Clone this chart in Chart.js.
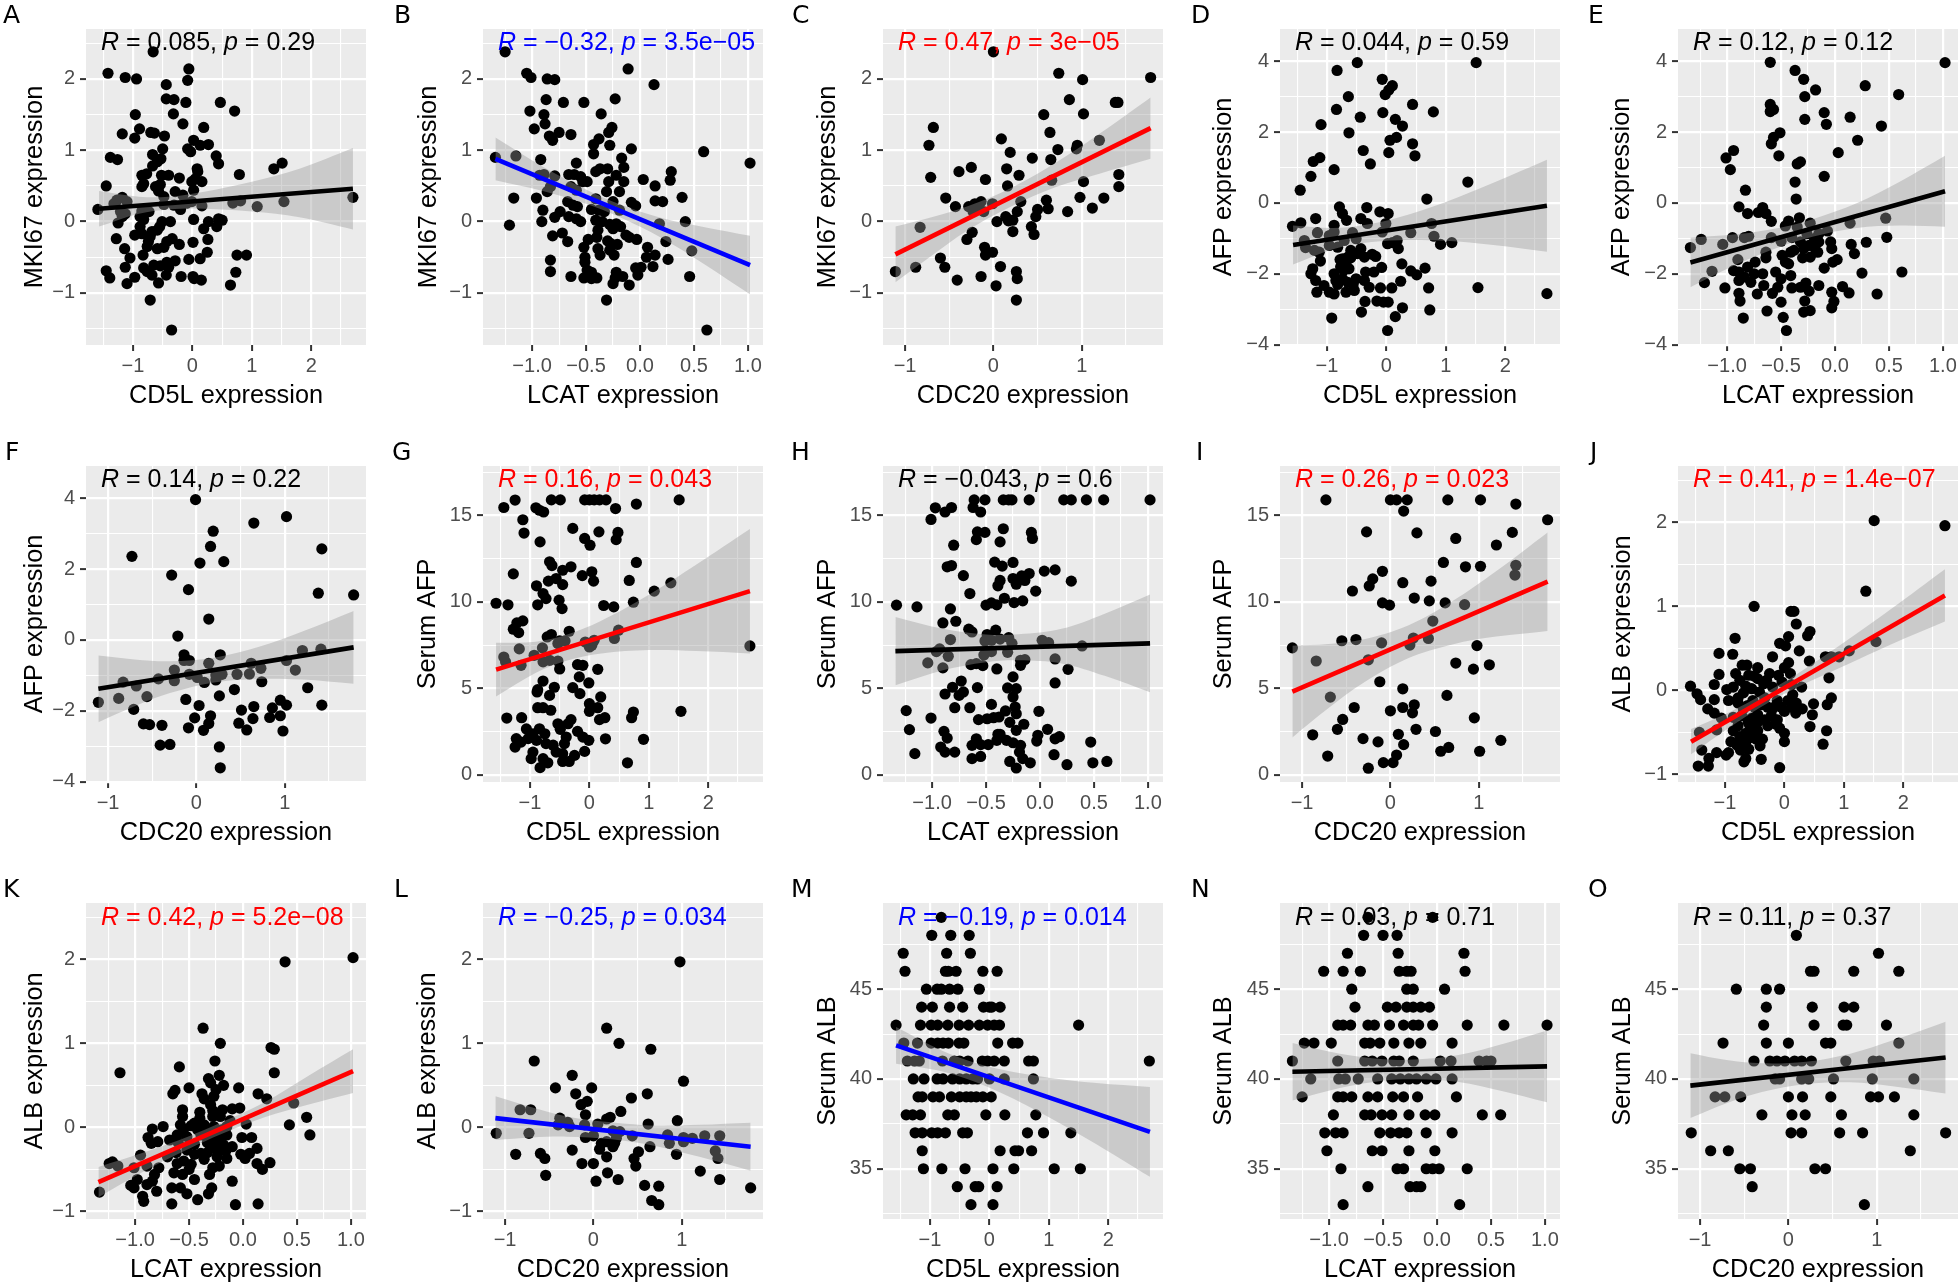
<!DOCTYPE html>
<html><head><meta charset="utf-8">
<style>
html,body{margin:0;padding:0;background:#fff;width:1960px;height:1287px;overflow:hidden}
canvas{position:absolute;display:block}
.ann{position:absolute;font:25px/30px "Liberation Sans",sans-serif;white-space:nowrap}
.tag{position:absolute;font:25px/30px "DejaVu Sans",sans-serif;color:#000}
</style>
<script src="https://cdn.jsdelivr.net/npm/chart.js@4"></script>
</head><body>
<script>
// ---- axis limits & ticks ----
const cd5lRange=[-1.79,2.92], lcatRange=[-1.455,1.14], cdc20Range=[-1.25,1.92];
const mki67Range=[-1.73,2.70], afpRange=[-4.01,4.91], sAfpRange=[-0.42,17.86], albRange=[-1.09,2.67], sAlbRange=[32.2,49.8];
const cd5lTicks=[-1,0,1,2], lcatTicks=[-1,-0.5,0,0.5,1], cdc20Ticks=[-1,0,1];
const mki67Ticks=[-1,0,1,2], afpTicks=[-4,-2,0,2,4], sAfpTicks=[0,5,10,15], albTicks=[-1,0,1,2], sAlbTicks=[35,40,45];
// ---- x stations at which the confidence band was read ----
const cd5lStations=[-1.57,-0.9,-0.4,0.2,1,1.8,2.7];
const lcatStations=[-1.34,-0.9,-0.5,-0.2,0.2,0.6,1.02];
const cdc20Stations=[-1.11,-0.7,-0.3,0.2,0.7,1.2,1.78];
// ---- fit line value and band half width at stations ----
const fitA=[.18,.23,.26,.30,.35,.40,.46], bandA=[.25,.12,.09,.12,.21,.34,.57];
const fitB=[.88,.60,.35,.16,-.09,-.34,-.61], bandB=[.30,.17,.10,.09,.14,.26,.41];
const fitC=[-.46,-.21,.04,.34,.65,.95,1.31], bandC=[.39,.27,.17,.13,.17,.28,.43];
const fitD=[-1.19,-1.01,-.88,-.73,-.52,-.31,-.08], bandD=[.55,.3,.25,.32,.55,.88,1.3];
const fitE=[-1.68,-1.30,-.96,-.70,-.36,-.02,.33], bandE=[.7,.42,.27,.25,.35,.62,1.0];
const fitF=[-1.38,-1.21,-1.05,-.85,-.65,-.44,-.21], bandF=[.94,.66,.45,.35,.45,.68,1.03];
const fitG=[6.08,6.8,7.33,7.96,8.81,9.66,10.62], bandG=[1.55,.9,.75,.95,1.6,2.5,3.6];
const fitH=[7.15,7.24,7.31,7.37,7.44,7.52,7.6], bandH=[1.98,1.2,.8,.75,1.0,1.8,2.83];
const fitI=[4.81,5.71,6.59,7.69,8.79,9.89,11.17], bandI=[2.65,1.85,1.25,.95,1.25,1.9,2.85];
const fitJ=[-.61,-.34,-.13,.11,.43,.76,1.13], bandJ=[.15,.09,.07,.08,.14,.21,.31];
const fitK=[-.65,-.40,-.18,-.01,.21,.44,.67], bandK=[.18,.11,.075,.07,.09,.17,.26];
const fitL=[.11,.06,.01,-.04,-.10,-.16,-.23], bandL=[.26,.18,.12,.1,.12,.19,.285];
const fitM=[41.87,41.12,40.55,39.87,38.97,38.07,37.05], bandM=[1.02,.62,.52,.65,1.1,1.7,2.5];
const fitN=[40.4,40.45,40.5,40.53,40.58,40.63,40.7], bandN=[1.6,.95,.6,.55,.75,1.3,2.0];
const fitO=[39.63,39.85,40.07,40.34,40.61,40.88,41.19], bandO=[1.8,1.2,.8,.62,.8,1.3,2.0];
// ---- scatter points ----
const pointsA=[[-.66,2.38],[-1.42,2.08],[-1.13,2.02],[-.94,2],[-.06,2.14],[-.08,1.98],[-.44,1.92],[-.44,1.72],[-.31,1.71],[-.11,1.67],[.47,1.67],[.71,1.55],[-.96,1.5],[-.32,1.51],[-.16,1.37],[.19,1.32],[-.89,1.3],[-1.18,1.23],[-.97,1.17],[-.7,1.25],[-.64,1.24],[-.47,1.2],[.02,1.14],[-.5,1.02],[-.08,1.02],[-.03,.98],[.13,1.07],[.27,1.08],[-1.38,.9],[-1.26,.87],[-.67,.94],[-.53,.88],[-.59,.84],[-.67,.78],[.4,.92],[.44,.81],[1.51,.82],[1.37,.74],[.79,.66],[.08,.74],[.09,.7],[-.85,.65],[-.77,.67],[-.52,.65],[-.4,.65],[-.22,.61],[-.01,.56],[.16,.56],[.05,.6],[-1.45,.5],[-.82,.53],[-.85,.49],[-.62,.49],[-.54,.52],[-.57,.43],[-.29,.42],[.02,.44],[-.16,.37],[-.48,.35],[2.7,.34],[-1.27,.3],[-1.18,.34],[-1.1,.28],[-1.32,.25],[1.54,.28],[.81,.29],[.68,.26],[1.09,.21],[-1.59,.17],[-.48,.24],[-.31,.23],[-.2,.17],[.16,.22],[-.09,.26],[-.01,.28],[-1.21,.14],[-1.13,.11],[-1.18,.07],[-.85,.15],[-.73,.14],[-.88,.07],[-.82,.03],[-1.25,-.02],[.02,.03],[.19,-.1],[.27,0],[.41,-.07],[.44,.04],[.5,.02],[-.51,0],[-.37,0],[-.55,-.07],[-.59,-.12],[-1.28,-.24],[-.97,-.19],[-.88,-.07],[-.85,-.17],[.26,-.25],[.01,-.29],[-1.14,-.38],[-1.05,-.51],[-.76,-.35],[-.71,-.21],[-.68,-.14],[-.74,-.28],[-.34,-.24],[-.43,-.28],[-.48,-.36],[-.59,-.38],[-.22,-.32],[-.83,-.47],[.25,-.43],[.13,-.52],[-.06,-.53],[.75,-.47],[.91,-.47],[-1.13,-.64],[-1.45,-.69],[-1.39,-.79],[-.97,-.78],[-1.1,-.87],[-.82,-.65],[-.76,-.7],[-.68,-.75],[-.65,-.61],[-.54,-.62],[-.43,-.57],[-.29,-.55],[-.4,-.64],[-.44,-.75],[-.57,-.86],[-.19,-.77],[.01,-.77],[.03,-.8],[.15,-.82],[.73,-.71],[.64,-.89],[-.71,-1.1],[-.35,-1.52]];
const pointsB=[[-1.25,2.38],[-1.05,2.08],[-1.01,2.02],[-.86,2],[-.79,1.99],[-.11,2.14],[.13,1.92],[-.23,1.72],[-.87,1.71],[-.71,1.67],[-.52,1.67],[-1.02,1.55],[-.89,1.5],[-.88,1.37],[-.98,1.3],[-.36,1.51],[-.26,1.32],[-.29,1.25],[-.75,1.25],[-.64,1.22],[-.84,1.2],[-.81,1.14],[-.38,1.16],[-.43,1.08],[-.43,.95],[-.28,1.07],[-.08,1.02],[-1.34,.9],[-1.15,.92],[-.92,.87],[-.17,.89],[.59,.98],[1.02,.82],[-.59,.82],[-.15,.76],[-.3,.74],[-.37,.74],[-.41,.7],[.29,.7],[.28,.58],[-.66,.66],[-.61,.66],[-.55,.63],[-.93,.65],[-.89,.66],[-.79,.64],[-.22,.65],[-.15,.56],[-.29,.56],[.03,.59],[.14,.5],[-.49,.56],[-.53,.56],[-.64,.49],[-.59,.44],[-.83,.49],[-.86,.42],[-.31,.42],[-.19,.42],[-1.17,.33],[-.96,.33],[.39,.34],[.14,.29],[.21,.28],[-.41,.32],[-.25,.28],[-.08,.27],[-.04,.22],[-.67,.28],[-.62,.23],[-.58,.21],[-.45,.17],[-.38,.16],[-.33,.14],[-.19,.16],[-.9,.16],[-.91,0],[-.79,.06],[-.74,.14],[-.66,.07],[-.59,.04],[-.55,0],[-1.21,-.05],[-.41,.02],[-.35,0],[-.28,-.04],[-.22,-.03],[-.18,-.07],[-.25,-.1],[.42,0],[.18,-.03],[-.81,-.2],[-.72,-.16],[-.67,-.28],[-.39,-.12],[-.4,-.22],[-.48,-.25],[-.13,-.19],[-.03,-.25],[-.1,-.22],[.24,-.28],[.48,-.41],[-.3,-.27],[-.27,-.31],[-.21,-.32],[-.28,-.4],[-.24,-.47],[-.52,-.36],[-.39,-.38],[-.37,-.47],[-.51,-.5],[-.51,-.57],[.07,-.36],[.14,-.47],[.06,-.5],[.26,-.53],[-.83,-.54],[-.83,-.7],[.12,-.63],[.01,-.64],[-.04,-.65],[-.02,-.75],[-.49,-.68],[-.45,-.71],[-.52,-.79],[-.45,-.8],[-.4,-.79],[-.64,-.77],[-.22,-.71],[-.16,-.77],[-.23,-.79],[-.25,-.87],[-.1,-.89],[.46,-.77],[-.31,-1.1],[.62,-1.52]];
const pointsC=[[0,2.38],[.74,2.08],[1.01,1.99],[1.78,2.02],[.86,1.71],[1.38,1.67],[1.41,1.67],[.57,1.5],[1.02,1.51],[-.68,1.32],[.64,1.25],[.09,1.16],[1.2,1.14],[-.73,1.07],[.19,.97],[.73,1.01],[.95,1.07],[.94,1.02],[.44,.89],[.65,.87],[-.25,.76],[-.39,.7],[.15,.74],[.29,.65],[1.42,.66],[-.71,.62],[-.09,.59],[1.02,.56],[.16,.5],[.66,.58],[1.42,.49],[-.54,.33],[-.43,.21],[.98,.34],[1.25,.33],[1.12,.19],[.31,.28],[.6,.3],[.62,.18],[.5,.17],[.84,.14],[.27,.14],[.48,.07],[-.28,.21],[-.21,.25],[-.14,.28],[-.01,.25],[-.23,.14],[-.17,.18],[-.11,.14],[.14,.07],[.04,0],[.17,.01],[.22,.02],[-.83,-.08],[.22,-.14],[.43,-.07],[.46,-.18],[-.24,-.15],[-.3,-.25],[-.1,-.36],[-.01,-.43],[-.09,-.47],[-.6,-.51],[-.55,-.64],[-.88,-.64],[-1.11,-.7],[.08,-.63],[.26,-.7],[.27,-.8],[-.14,-.77],[-.41,-.82],[.03,-.9],[.26,-1.1]];
const pointsD=[[-.49,3.96],[1.51,3.96],[-.83,3.74],[-.07,3.49],[.1,3.31],[.04,3.19],[-.02,3.06],[-.64,3],[-.84,2.64],[.44,2.78],[.79,2.57],[-.06,2.55],[-.44,2.42],[.15,2.36],[.27,2.17],[-1.1,2.21],[-.63,1.98],[.17,1.85],[.06,1.77],[.44,1.67],[-.39,1.48],[.04,1.42],[.48,1.33],[-1.12,1.28],[-1.23,1.17],[-.27,1.1],[-.88,.94],[-1.27,.75],[-1.45,.36],[1.37,.59],[.68,.11],[-.79,-.11],[-.33,-.13],[-.74,-.3],[-.11,-.25],[.03,-.3],[-1.19,-.44],[-.67,-.49],[-.43,-.44],[-1.44,-.56],[-1.58,-.66],[-.88,-.63],[-.32,-.58],[-.01,-.58],[.76,-.58],[-1.16,-.84],[-.88,-.82],[-.96,-.92],[-.57,-.84],[-.07,-.82],[.41,-.84],[.8,-.94],[-1.38,-1.06],[1.1,-1.12],[.91,-1.17],[-1.36,-1.26],[.02,-1.15],[.18,-1.06],[.1,-1.12],[.2,-1.29],[-1.21,-1.34],[-1.13,-1.39],[-.96,-1.2],[-.82,-1.25],[-.71,-1.06],[-.51,-1.01],[-.43,-1.29],[-.6,-1.34],[-.49,-1.43],[-.37,-1.53],[-.24,-1.45],[-.18,-1.51],[-.65,-1.53],[-.74,-1.58],[-1.11,-1.64],[.26,-1.72],[.65,-1.84],[.41,-1.92],[.51,-2.03],[-.08,-1.82],[-.21,-1.95],[-.35,-1.95],[-1.24,-1.86],[-1.27,-2],[-1.19,-2.19],[-1.05,-2.33],[-1.17,-2.52],[-.88,-2],[-.77,-1.81],[-.68,-1.72],[-.63,-1.86],[-.85,-2.19],[-.74,-2.14],[-.65,-2.24],[-.51,-2.14],[-.37,-2.19],[-.29,-2.38],[-.54,-2.47],[-.68,-2.52],[-.88,-2.57],[-.96,-2.52],[-.78,-1.6],[-.72,-1.9],[-.82,-2.3],[-.6,-1.55],[-.56,-2.3],[.24,-2.21],[-.1,-2.4],[.09,-2.4],[.71,-2.4],[1.54,-2.39],[2.7,-2.56],[-.36,-2.78],[-.16,-2.77],[-.05,-2.8],[.03,-2.8],[.27,-2.96],[.15,-3.21],[.73,-3.02],[-.42,-3.08],[-.92,-3.25],[.02,-3.6]];
const pointsE=[[-.6,3.97],[1.02,3.96],[-.37,3.74],[-.29,3.49],[-.18,3.19],[.28,3.31],[.59,3.06],[-.28,3],[-.6,2.78],[-.57,2.64],[-.6,2.58],[-.1,2.55],[.14,2.42],[-.28,2.36],[-.08,2.22],[.43,2.17],[-.51,1.98],[-.57,1.85],[.21,1.77],[-.59,1.67],[.03,1.42],[-.94,1.48],[-1.01,1.27],[-.52,1.33],[-.32,1.16],[-.35,1.1],[-.97,.94],[-.1,.75],[-.37,.59],[-.83,.36],[-.36,.11],[-.89,-.11],[-.81,-.3],[-.71,-.27],[-.67,-.13],[-.64,-.3],[-.59,-.52],[-.43,-.51],[-.33,-.42],[.47,-.43],[-.23,-.57],[.14,-.57],[-.46,-.65],[-.35,-.68],[-.07,-.79],[-.8,-.94],[-.84,-.98],[-.95,-.98],[-1.24,-1.03],[-1.04,-1.17],[-1.34,-1.26],[.48,-.97],[.29,-1.11],[-.59,-.98],[-.5,-1.08],[-.4,-.98],[-.04,-1.1],[-.03,-1.29],[.15,-1.17],[.18,-1.43],[-.26,-.87],[-.15,-.87],[-.19,-1.01],[-.32,-1.1],[-.15,-1.1],[-.24,-1.2],[-.38,-1.34],[-.19,-1.25],[-.29,-1.29],[-.16,-1.39],[-.23,-1.53],[-.3,-1.55],[-.41,-1.39],[-.46,-1.67],[-.64,-1.39],[-.64,-1.55],[-.9,-1.6],[-.74,-1.67],[-.49,-1.48],[-.43,-1.72],[.02,-1.6],[-.02,-1.67],[-.1,-1.84],[-1.14,-1.93],[-1.21,-2.25],[.62,-1.95],[.25,-1.98],[-.94,-1.91],[-.81,-1.81],[-.89,-2.19],[-.78,-2.24],[-.84,-2.09],[-.89,-1.95],[-.75,-2],[-.67,-2],[-.55,-1.95],[-.41,-2.05],[-.5,-2.14],[-.4,-2.4],[-1.02,-2.4],[-.66,-2.33],[-.53,-2.38],[-.58,-2.55],[-.27,-2.26],[-.32,-2.38],[-.24,-2.49],[-.15,-2.33],[-.03,-2.52],[.07,-2.36],[.13,-2.54],[.39,-2.57],[-.72,-2.57],[-.89,-2.55],[-.88,-2.77],[-.5,-2.8],[-.28,-2.77],[-.29,-3.08],[-.23,-3.04],[-.01,-2.78],[-.03,-2.96],[-.63,-3.05],[-.48,-3.23],[-.85,-3.25],[-.45,-3.6]];
const pointsF=[[-.01,3.96],[.65,3.3],[1.02,3.48],[.19,3.07],[.16,2.64],[-.73,2.36],[1.42,2.57],[.04,2.17],[.31,2.21],[-.28,1.83],[-.09,1.42],[1.38,1.32],[1.78,1.27],[.14,.59],[-.21,.11],[-.14,-.42],[.27,-.42],[-.14,-.58],[-.08,-.58],[.14,-.66],[.62,-.66],[1.02,-.58],[1.2,-.3],[1.41,-.26],[.73,-.8],[1.12,-.85],[-.25,-.85],[-.08,-.97],[.01,-1.06],[.29,-.97],[.22,-.99],[.46,-.97],[.6,-.96],[-.43,-1.1],[-.25,-1.15],[.09,-1.2],[.22,-1.13],[-.83,-1.19],[.74,-1.18],[-.68,-1.3],[.43,-1.4],[1.26,-1.35],[-1.11,-1.76],[-.88,-1.65],[-.56,-1.6],[-.71,-1.96],[-.12,-1.68],[.26,-1.58],[.03,-1.85],[.51,-1.98],[.65,-1.88],[.95,-1.7],[1.02,-1.84],[.86,-1.92],[1.42,-1.84],[.16,-2.14],[-.02,-2.2],[.64,-2.22],[.83,-2.19],[.95,-2.14],[-.6,-2.37],[-.53,-2.39],[-.39,-2.41],[-.09,-2.48],[.08,-2.55],[.14,-2.36],[.48,-2.35],[.57,-2.54],[.98,-2.57],[-.41,-2.97],[-.3,-2.95],[.26,-3.02],[.27,-3.61]];
const pointsG=[[-1.25,15.89],[-1.44,15.46],[-.9,15.44],[-.84,15.3],[-.77,15.2],[-.64,15.9],[-.49,15.9],[-.08,15.9],[0,15.9],[.08,15.9],[.17,15.9],[.28,15.9],[.44,15.4],[.79,15.66],[1.51,15.9],[-1.12,14.75],[-1.1,13.98],[-.28,14.25],[.16,14.05],[.48,14.02],[.45,13.6],[-.08,13.67],[.01,13.28],[-.83,13.47],[-.67,12.32],[-.63,12.1],[.79,12.28],[-.31,12.03],[-.45,11.83],[.04,11.74],[-1.28,11.62],[-.12,11.52],[-.56,11.35],[-.69,11.2],[.07,11.2],[.67,11.24],[-.45,11],[-.89,10.93],[1.09,10.62],[1.37,11.1],[-.78,10.48],[-.73,10.19],[-.51,10.1],[-.46,9.61],[-1.57,9.92],[-1.37,9.83],[-.87,9.83],[.24,9.79],[.41,9.71],[.74,9.98],[-1.12,8.9],[-1.22,8.78],[-1.28,8.42],[-1.19,8.22],[-.34,8.3],[-.64,8.11],[-.71,7.97],[.49,8.36],[.42,7.88],[-.5,7.74],[-.41,7.74],[-.53,7.59],[-.07,7.68],[.08,7.78],[0,7.39],[.04,7.49],[2.7,7.45],[-1.18,7.28],[-.79,7.34],[-.93,6.91],[-1.44,6.81],[-1.41,6.52],[-1.15,6.33],[-.78,6.53],[-.67,6.62],[-.53,6.58],[-.5,6.12],[-.2,6.37],[-.11,6.33],[.14,6.1],[-.17,5.66],[-.01,5.31],[-.78,5.42],[-.59,5.06],[-.87,4.92],[-.88,4.79],[-.67,4.59],[-.28,5.04],[-.16,4.69],[.19,4.5],[0,4.11],[.14,3.88],[0,3.67],[-.87,3.88],[-.78,3.88],[-.65,3.73],[.74,3.63],[.71,3.3],[1.54,3.67],[-1.39,3.28],[-1.14,3.3],[.17,3.19],[.26,3.3],[-.31,3.19],[-.53,2.95],[-.36,2.95],[-.49,2.63],[-.2,2.51],[.27,2.08],[.91,2.05],[-.11,2.18],[-.01,1.99],[-.39,2.18],[-.42,1.8],[-1.06,2.65],[-1.23,2.09],[-1.15,1.89],[-1.25,1.6],[-.95,2.37],[-.84,2.66],[-1.03,2.09],[-.89,1.99],[-.75,2.37],[-.73,1.8],[-.61,1.71],[-.56,1.31],[-.95,1.31],[-.98,.93],[-.78,.93],[-.7,.69],[-.83,.41],[-.45,1.22],[-.08,1.35],[-.25,1.12],[-.45,.77],[-.34,.77],[.64,.69]];
const pointsH=[[-.61,15.9],[-.51,15.9],[-.34,15.9],[-.29,15.9],[-.26,15.9],[-.1,15.9],[.22,15.9],[.29,15.9],[.43,15.9],[.59,15.9],[1.02,15.9],[-.97,15.44],[-.88,15.2],[-.82,15.46],[-1.01,14.77],[-.62,15.46],[-.55,15.2],[-.34,14.23],[-.58,14.05],[-.51,14.02],[-.08,14.02],[-.07,13.67],[-.59,13.6],[-.37,13.47],[-.8,13.28],[-.42,12.3],[-.35,12.07],[-.25,12.28],[-.86,12.03],[-.82,12.1],[-.71,11.52],[.04,11.78],[.14,11.85],[-.1,11.64],[.29,11.2],[-.37,11.24],[-.39,10.93],[-.25,11.35],[-.17,11.5],[-.14,11.24],[-.22,11.02],[-.04,10.62],[-.65,10.48],[-.33,10.21],[-.16,10.06],[-.24,9.96],[-.5,9.81],[-.45,9.94],[-.4,9.83],[-1.33,9.81],[-1.14,9.71],[-.83,9.59],[-.9,8.78],[-.78,8.88],[-.66,8.42],[-.63,8.26],[-.41,8.36],[-.49,8.11],[-.83,7.82],[-.51,7.74],[-.45,7.78],[-.37,7.85],[-.29,7.93],[-.26,7.6],[.02,7.78],[.08,7.64],[.39,7.45],[-.93,7.28],[-.96,7.12],[-.3,7.08],[-.45,7.12],[-.52,6.93],[.14,6.7],[-.85,6.85],[-1.04,6.47],[-.9,6.18],[-.64,6.37],[-.59,6.43],[-.53,6.31],[-.18,6.62],[-.14,6.66],[-.18,6.33],[-.4,6.12],[.26,6.1],[-.25,5.66],[.14,5.31],[-.73,5.42],[-.81,5.06],[-.58,5.04],[-.3,5.02],[-.22,4.98],[-.88,4.67],[-.71,4.79],[-.75,4.59],[-.25,4.5],[-.45,4.07],[-.79,3.88],[-.65,3.88],[-.23,3.92],[-.32,3.69],[-.22,3.53],[-.01,3.67],[-1.24,3.71],[-1.01,3.28],[-.57,3.19],[-.49,3.24],[-.43,3.3],[-.38,3.34],[-.28,3.03],[-.15,2.92],[-.22,2.57],[.07,2.63],[-1.21,2.61],[-.89,2.51],[-.86,2.12],[-.59,2.08],[-.02,2.28],[-.03,1.95],[.18,2.2],[.14,2.08],[-.39,2.34],[-.37,2.34],[-.4,1.99],[-.31,1.99],[-.25,1.85],[-.18,1.7],[.47,1.89],[-.63,1.7],[-.55,1.74],[-.48,1.74],[-.92,1.6],[-.88,1.31],[-.79,1.31],[-1.16,1.22],[-.19,1.31],[.13,1.16],[-.63,.93],[-.55,1.06],[-.16,.93],[-.09,.69],[-.28,.77],[-.22,.39],[.25,.58],[.49,.69],[.62,.77]];
const pointsI=[[-.73,15.9],[0,15.9],[.07,15.9],[.19,15.9],[.65,15.9],[1.02,15.9],[1.42,15.66],[.15,15.25],[1.78,14.75],[-.27,14.05],[.3,13.99],[1.38,14.02],[.74,13.67],[1.2,13.29],[.6,12.28],[.85,12.03],[1.02,12.06],[1.42,12.12],[1.41,11.55],[-.09,11.77],[-.2,11.33],[-.24,10.92],[.14,11.11],[.46,11.2],[-.43,10.63],[.27,10.22],[.44,10.06],[.62,9.94],[.84,9.84],[-.09,9.94],[-.01,9.81],[.48,8.89],[-.55,7.75],[-.39,7.82],[-.1,7.63],[-1.11,7.34],[.22,7.5],[.43,7.88],[.26,7.91],[.98,7.47],[-.84,6.58],[-.25,6.65],[.74,6.46],[1.12,6.36],[.94,6.11],[-.12,5.38],[.14,4.97],[-.68,4.49],[.64,4.59],[.27,4.05],[-.41,3.89],[0,3.7],[.14,3.89],[.25,3.58],[-.54,3.2],[.95,3.29],[-.6,2.63],[.29,2.63],[.51,2.5],[-.88,2.31],[.09,2.34],[-.31,2.09],[-.14,1.9],[1.25,1.99],[.15,1.74],[.66,1.58],[.57,1.36],[1.01,1.36],[-.71,1.08],[.07,1.14],[-.08,.7],[.03,.7],[-.25,.38]];
const pointsJ=[[1.51,2.02],[2.7,1.96],[1.37,1.18],[-.51,1],[.11,.94],[.16,.94],[.2,.79],[.43,.7],[.39,.65],[-.83,.62],[-.08,.56],[.07,.64],[.02,.53],[.25,.47],[-1.1,.44],[-.87,.43],[-.2,.4],[.69,.4],[.79,.4],[.92,.4],[1.09,.47],[1.54,.58],[.42,.35],[.07,.33],[-.71,.3],[-.63,.3],[-.45,.27],[0,.27],[-1.1,.19],[-.82,.2],[-.51,.17],[-.25,.2],[-.45,.14],[.75,.15],[-1.18,.07],[-1.58,.05],[-.97,.01],[-.86,.04],[-.69,-.03],[-.2,.04],[-.04,.1],[.12,.07],[.29,.04],[-1.47,-.04],[-1.41,-.11],[-1.18,-.11],[-.94,-.12],[-.78,-.09],[-.53,-.12],[-.33,-.09],[-.12,-.12],[.79,-.09],[.72,-.17],[.49,-.16],[-1.29,-.22],[-1.18,-.27],[-1.06,-.33],[.47,-.29],[.19,-.27],[0,-.25],[-.69,-.22],[-.45,-.29],[-.2,-.22],[-.86,-.32],[-.61,-.38],[-.33,-.35],[-.12,-.35],[-1.14,-.47],[-1.43,-.5],[.43,-.43],[.71,-.48],[-.86,-.48],[-.65,-.51],[-.45,-.48],[-.08,-.45],[0,-.51],[-.9,-.61],[-.65,-.62],[-.37,-.58],[0,-.61],[.65,-.64],[-.41,-.66],[-1.39,-.71],[-1.14,-.74],[-.94,-.74],[-.74,-.71],[-.65,-.81],[-.98,-.77],[-.39,-.82],[-1.27,-.81],[-1.45,-.9],[-1.28,-.9],[-.68,-.85],[-.08,-.92],[-.75,.12],[-.6,.18],[-.35,.08],[-.55,.02],[-.42,-.02],[-.78,-.15],[-.62,-.18],[-.5,-.2],[-.38,-.17],[-.28,-.2],[-.14,-.18],[.06,-.12],[.14,-.05],[-.72,-.3],[-.55,-.33],[-.45,-.38],[-.22,-.3],[-.05,-.2],[-.78,-.42],[-.58,-.42],[-.52,-.45],[-.28,-.42],[-.15,-.4],[-.75,-.55],[-.55,-.56],[-.48,-.58],[-.8,-.65],[-.6,-.7],[-.3,.12],[-.1,.18],[.1,.2],[-.65,.05],[.2,-.15],[.3,-.22],[.12,-.2]];
const pointsK=[[1.02,2.02],[.39,1.97],[-.37,1.18],[-.21,1],[.26,.95],[.29,.93],[-.26,.79],[-.59,.72],[-1.14,.65],[.29,.65],[-.22,.62],[-.32,.58],[-.3,.53],[-.18,.5],[-.5,.47],[-.04,.47],[-.25,.45],[-.63,.44],[-.65,.4],[.14,.4],[-.38,.4],[-.36,.34],[-.27,.37],[.22,.34],[-.3,.27],[.47,.29],[-.56,.21],[-.19,.21],[-.1,.22],[-.03,.23],[.59,.12],[.43,.03],[.62,-.09],[-.56,.13],[-.4,.11],[-.28,.13],[-.21,.13],[-.58,.03],[-.45,.05],[-.36,.03],[-.27,.01],[-.74,.01],[-.84,-.02],[.03,.04],[-.15,.01],[-.88,-.12],[-.01,-.12],[.08,-.12],[-.61,-.09],[-.52,-.11],[-.39,-.09],[-.24,-.1],[-.15,-.09],[-.79,-.17],[-.85,-.19],[-.27,-.19],[-.18,-.21],[-.1,-.23],[-.52,-.27],[-.39,-.31],[-.24,-.27],[-.95,-.33],[-.7,-.35],[.13,-.25],[-.02,-.32],[.06,-.31],[.02,-.37],[-.15,-.37],[-.36,-.38],[-.24,-.35],[-1.24,-.43],[-1.21,-.41],[-1.16,-.46],[.25,-.42],[.13,-.43],[.18,-.5],[-1.01,-.48],[-.89,-.46],[-.78,-.48],[-.61,-.43],[-.48,-.44],[-.22,-.46],[-.28,-.48],[-.64,-.54],[-.56,-.56],[-.5,-.5],[-.31,-.56],[-.82,-.56],[-.98,-.62],[-.84,-.64],[-.45,-.62],[-.1,-.64],[-1.04,-.69],[-1.01,-.72],[-.89,-.68],[-.8,-.76],[-.66,-.72],[-.58,-.72],[-.29,-.72],[-.32,-.79],[-.52,-.79],[-1.33,-.77],[-.93,-.82],[-.92,-.88],[-.42,-.86],[-.66,-.91],[-.07,-.92],[.14,-.91],[-.55,-.02],[-.48,.02],[-.42,-.03],[-.33,-.05],[-.2,-.03],[-.12,.08],[-.68,-.15],[-.6,-.18],[-.45,-.2],[-.33,-.18],[-.2,-.13],[-.3,-.25],[-.16,-.28],[-.62,-.3],[-.45,-.32],[-.33,-.3],[-.55,-.4],[-.4,.18],[-.28,.2],[-.3,-.12]];
const pointsL=[[.98,1.97],[.15,1.18],[.29,1],[.65,.93],[-.67,.79],[1.02,.55],[-.24,.62],[-.43,.47],[-.02,.47],[.61,.4],[-.2,.4],[.43,.35],[-.07,.31],[-.14,.27],[-.83,.21],[-.71,.21],[.31,.19],[-.09,.15],[.19,.12],[.15,.1],[.95,.08],[-.38,.11],[-.4,.03],[-.29,.06],[-.27,.01],[.62,.04],[.05,.04],[-.1,.03],[.22,-.04],[.3,-.05],[-1.1,-.07],[-.73,-.07],[.44,-.1],[.84,-.09],[1.26,-.1],[1.43,-.1],[1.02,-.12],[1.12,-.13],[-.09,-.12],[0,-.1],[.26,-.13],[.15,-.17],[.86,-.19],[1.02,-.17],[.09,-.19],[.24,-.19],[.22,-.23],[.64,-.23],[.07,-.26],[-.24,-.27],[.51,-.29],[-.88,-.32],[-.6,-.31],[.94,-.32],[1.38,-.28],[.15,-.35],[-.55,-.37],[.46,-.37],[1.41,-.37],[-.13,-.43],[0,-.43],[.48,-.46],[1.21,-.52],[.16,-.54],[-.54,-.57],[.28,-.62],[.03,-.64],[1.43,-.62],[.58,-.69],[.74,-.7],[1.78,-.72],[.66,-.87],[.74,-.92]];
// serum ALB is recorded in whole units: x values per y row
const rowsM={49:[-.81],48:[-.97,-.65,-.34],47:[-1.45,-.72,-.32],46:[-1.42,-.74,-.69,-.56,-.11,.13],45:[-1.06,-.88,-.81,-.67,-.53,-.17],44:[-1.14,-.96,-.67,-.45,-.1,0,.04,.18],43:[-1.57,-1.16,-.98,-.87,-.7,-.51,-.35,-.17,-.03,.08,.17,1.5],42:[-1.44,-1.21,-.98,-.87,-.78,-.69,-.51,-.43,.14,.39,.48],41:[-1.38,-1.26,-1.18,-.79,-.59,-.5,-.36,-.12,-.03,.08,.25,.66,.74,2.69],40:[-1.28,-1.1,-.88,-.78,-.62,-.5,-.39,-.28,-.2,0,.25,.74],39:[-1.2,-1.13,-.95,-.84,-.64,-.5,-.39,-.31,-.22,-.11,.03],38:[-1.4,-1.29,-1.16,-.7,-.59,-.06,.26,.78],37:[-1.25,-1.13,-.97,-.87,-.74,-.45,-.37,.64,.91,1.37],36:[-1.13,.18,.43,.49,.71],35:[-1.11,-.8,-.41,.06,.41,1.09,1.53],34:[-.54,-.24,-.18,.13],33:[-.31,.06]};
const rowsN={49:[-.64,-.04],48:[-.68,-.5,-.37],47:[-.83,-.36,.25],46:[-1.05,-.87,-.71,-.35,-.28,-.24,.26],45:[-.79,-.28,-.22,.07],44:[-.76,-.46,-.38,-.28,-.22,-.15,-.07],43:[-.92,-.87,-.8,-.64,-.58,-.44,-.31,-.22,-.17,-.04,.28,.62,1.02],42:[-1.23,-1.14,-.98,-.67,-.62,-.53,-.4,-.26,-.15,.14],41:[-1.34,-.92,-.67,-.6,-.51,-.4,-.35,-.22,.03,.13,.39,.46,.5],40:[-1.17,-.91,-.85,-.73,-.55,-.42,-.34,-.26,-.19,-.1,-.01,.14],39:[-1.25,-.92,-.87,-.79,-.64,-.55,-.41,-.31,-.18,.18],38:[-.96,-.67,-.61,-.51,-.42,-.26,-.11,-.02,.42,.59],37:[-1.04,-.94,-.87,-.53,-.43,-.35,-.28,-.1,.14],36:[-1.02,-.6,-.51,-.26,-.02],35:[-.89,-.37,-.31,-.1,-.04,.02,.28],34:[-.64,-.25,-.19,-.15],33:[-.87,.21]};
const rowsO={48:[.09],47:[1.02],46:[.25,.29,.74,1.25],45:[-.59,-.25,-.1],44:[-.25,.27,.63,.74],43:[-.28,.29,.62,.66,1.11],42:[-.74,-.25,0,.42,.48,1.25],41:[-.39,-.21,-.13,-.04,.07,.15,.26,.65,.96,1.03],40:[-.15,-.1,.15,.23,.51,.95,1.42],39:[-.83,-.72,-.54,0,.16,.48,.93,1.02,1.2],38:[-.3,.04,.19,.6,1.42],37:[-1.1,.03,.15,.58,.84,1.78],36:[-.88,-.68,1.38],35:[-.55,-.43,.3,.42],34:[-.41],33:[.86]};
// ---- labels ----
const tagNames=["A","B","C","D","E","F","G","H","I","J","K","L","M","N","O"];
const xTitles=["CD5L expression","LCAT expression","CDC20 expression"];
const corrR=["0.085","\u22120.32","0.47","0.044","0.12","0.14","0.16","\u22120.043","0.26","0.41","0.42","\u22120.25","\u22120.19","0.03","0.11"];
const corrP=["0.29","3.5e\u221205","3e\u221205","0.59","0.12","0.22","0.043","0.6","0.023","1.4e\u221207","5.2e\u221208","0.034","0.014","0.71","0.37"];
const lineColors=["#000","#00f","#f00","#000","#000","#000","#f00","#000","#f00","#f00","#f00","#00f","#00f","#000","#000"];

const fromRows=r=>Object.keys(r).flatMap(y=>r[y].map(x=>[x,+y]));
const X={CD5L:{title:xTitles[0],range:cd5lRange,ticks:cd5lTicks,st:cd5lStations,dec:0},
         LCAT:{title:xTitles[1],range:lcatRange,ticks:lcatTicks,st:lcatStations,dec:1},
         CDC20:{title:xTitles[2],range:cdc20Range,ticks:cdc20Ticks,st:cdc20Stations,dec:0}};
const Y={MKI:{title:"MKI67 expression",range:mki67Range,ticks:mki67Ticks},
         AFP:{title:"AFP expression",range:afpRange,ticks:afpTicks},
         SAFP:{title:"Serum AFP",range:sAfpRange,ticks:sAfpTicks},
         ALB:{title:"ALB expression",range:albRange,ticks:albTicks},
         SALB:{title:"Serum ALB",range:sAlbRange,ticks:sAlbTicks}};
const panels=[
 [X.CD5L,Y.MKI,pointsA,fitA,bandA],[X.LCAT,Y.MKI,pointsB,fitB,bandB],[X.CDC20,Y.MKI,pointsC,fitC,bandC],
 [X.CD5L,Y.AFP,pointsD,fitD,bandD],[X.LCAT,Y.AFP,pointsE,fitE,bandE],[X.CDC20,Y.AFP,pointsF,fitF,bandF],
 [X.CD5L,Y.SAFP,pointsG,fitG,bandG],[X.LCAT,Y.SAFP,pointsH,fitH,bandH],[X.CDC20,Y.SAFP,pointsI,fitI,bandI],
 [X.CD5L,Y.ALB,pointsJ,fitJ,bandJ],[X.LCAT,Y.ALB,pointsK,fitK,bandK],[X.CDC20,Y.ALB,pointsL,fitL,bandL],
 [X.CD5L,Y.SALB,fromRows(rowsM),fitM,bandM],[X.LCAT,Y.SALB,fromRows(rowsN),fitN,bandN],[X.CDC20,Y.SALB,fromRows(rowsO),fitO,bandO]];

// ---- layout (page pixels) ----
const plotLefts=[86,483,883,1280,1678], plotTops=[29,466,903], plotW=280, plotH=316;
const yTitleGap=[51,54,55,56,56, 51,55,55,56,55, 51,55,55,56,55];
const tagX=[3,394,792,1191,1588, 5,392,791,1196,1590, 3,394,791,1191,1588];
const tagY=[0,437,874];
const LEFT=78,BOTTOM=70,TOP=28,RIGHT=28;

const fmt=(v,d)=>{const s=Math.abs(v).toFixed(d);return (v<0?"\u2212":"")+s;};
const withMinors=(maj,r)=>{const st=maj[1]-maj[0],o=[];
  for(let v=maj[0]-st/2;v<r[1];v+=st/2){ if(v>r[0]) o.push(+v.toFixed(6)); } 
  return o;};
const panelBg={id:"panelBg",beforeDraw(c){const a=c.chartArea,g=c.ctx;g.save();g.fillStyle="#EBEBEB";g.fillRect(a.left,a.top,a.width,a.height);g.restore();}};

panels.forEach((p,i)=>{
  const [xa,ya,pts,fit,band]=p, col=i%5,row=Math.floor(i/5);
  const pl=plotLefts[col],pt=plotTops[row];
  const cv=document.createElement("canvas");
  cv.width=LEFT+plotW+RIGHT; cv.height=TOP+plotH+BOTTOM;
  cv.style.left=(pl-LEFT)+"px"; cv.style.top=(pt-TOP)+"px";
  document.body.appendChild(cv);
  const axis=(a,dec,isX)=>{
    const major=new Set(a.ticks.map(v=>+v.toFixed(6)));
    const isM=t=>major.has(+(+t.value).toFixed(6));
    return {type:"linear",min:a.range[0],max:a.range[1],bounds:"data",
      afterBuildTicks(s){s.ticks=withMinors(a.ticks,a.range).map(v=>({value:v}));},
      afterFit(s){ if(isX) s.height=BOTTOM; else s.width=LEFT; },
      border:{display:false},
      grid:{drawTicks:true,tickLength:6,drawOnChartArea:true,
        color:"#fff",lineWidth:c=>isM(c.tick)?2.2:1.1,
        tickColor:c=>isM(c.tick)?"#333333":"rgba(0,0,0,0)",tickWidth:2},
      ticks:{autoSkip:false,maxRotation:0,minRotation:0,color:"#4D4D4D",
        font:{family:"Liberation Sans",size:20},padding:isX?3:5,
        callback:v=>major.has(+(+v).toFixed(6))?fmt(v,dec):""},
      title:{display:true,text:a.title,color:"#000",font:{family:"Liberation Sans",size:25.3,lineHeight:1.2},
        padding:isX?{top:0,bottom:3.5}:{top:LEFT-15-yTitleGap[i],bottom:0}}};
  };
  const st=xa.st;
  new Chart(cv,{type:"scatter",
    data:{datasets:[
      {type:"line",data:[{x:st[0],y:fit[0]},{x:st[st.length-1],y:fit[fit.length-1]}],borderColor:lineColors[i],borderWidth:4.6,pointRadius:0,fill:false,borderCapStyle:"butt"},
      {type:"line",data:st.map((x,k)=>({x,y:fit[k]+band[k]})),borderWidth:0,borderColor:"rgba(0,0,0,0)",pointRadius:0,tension:0.35,backgroundColor:"rgba(153,153,153,0.4)",fill:"+1"},
      {type:"line",data:st.map((x,k)=>({x,y:fit[k]-band[k]})),borderWidth:0,borderColor:"rgba(0,0,0,0)",pointRadius:0,tension:0.35,fill:false},
      {type:"scatter",data:pts.map(([x,y])=>({x,y})),backgroundColor:"#000",borderColor:"#000",borderWidth:0,pointRadius:5.6,pointHoverRadius:5.6}
    ]},
    options:{responsive:false,animation:false,events:[],devicePixelRatio:1,
      layout:{autoPadding:false,padding:{top:TOP,right:RIGHT,left:0,bottom:0}},
      plugins:{legend:{display:false},tooltip:{enabled:false},title:{display:false}},
      scales:{x:axis(xa,xa.dec,true),y:axis(ya,0,false)}},
    plugins:[panelBg]});
  const ann=document.createElement("div");ann.className="ann";
  ann.style.left=(pl+15)+"px";ann.style.top=(pt-3+(row==2?1:0))+"px";ann.style.color=lineColors[i];
  ann.innerHTML="<i>R</i> = "+corrR[i]+", <i>p</i> = "+corrP[i];
  document.body.appendChild(ann);
  const tag=document.createElement("div");tag.className="tag";tag.textContent=tagNames[i];
  tag.style.left=tagX[i]+"px";tag.style.top=tagY[row]+"px";
  document.body.appendChild(tag);
});
</script>
</body></html>
